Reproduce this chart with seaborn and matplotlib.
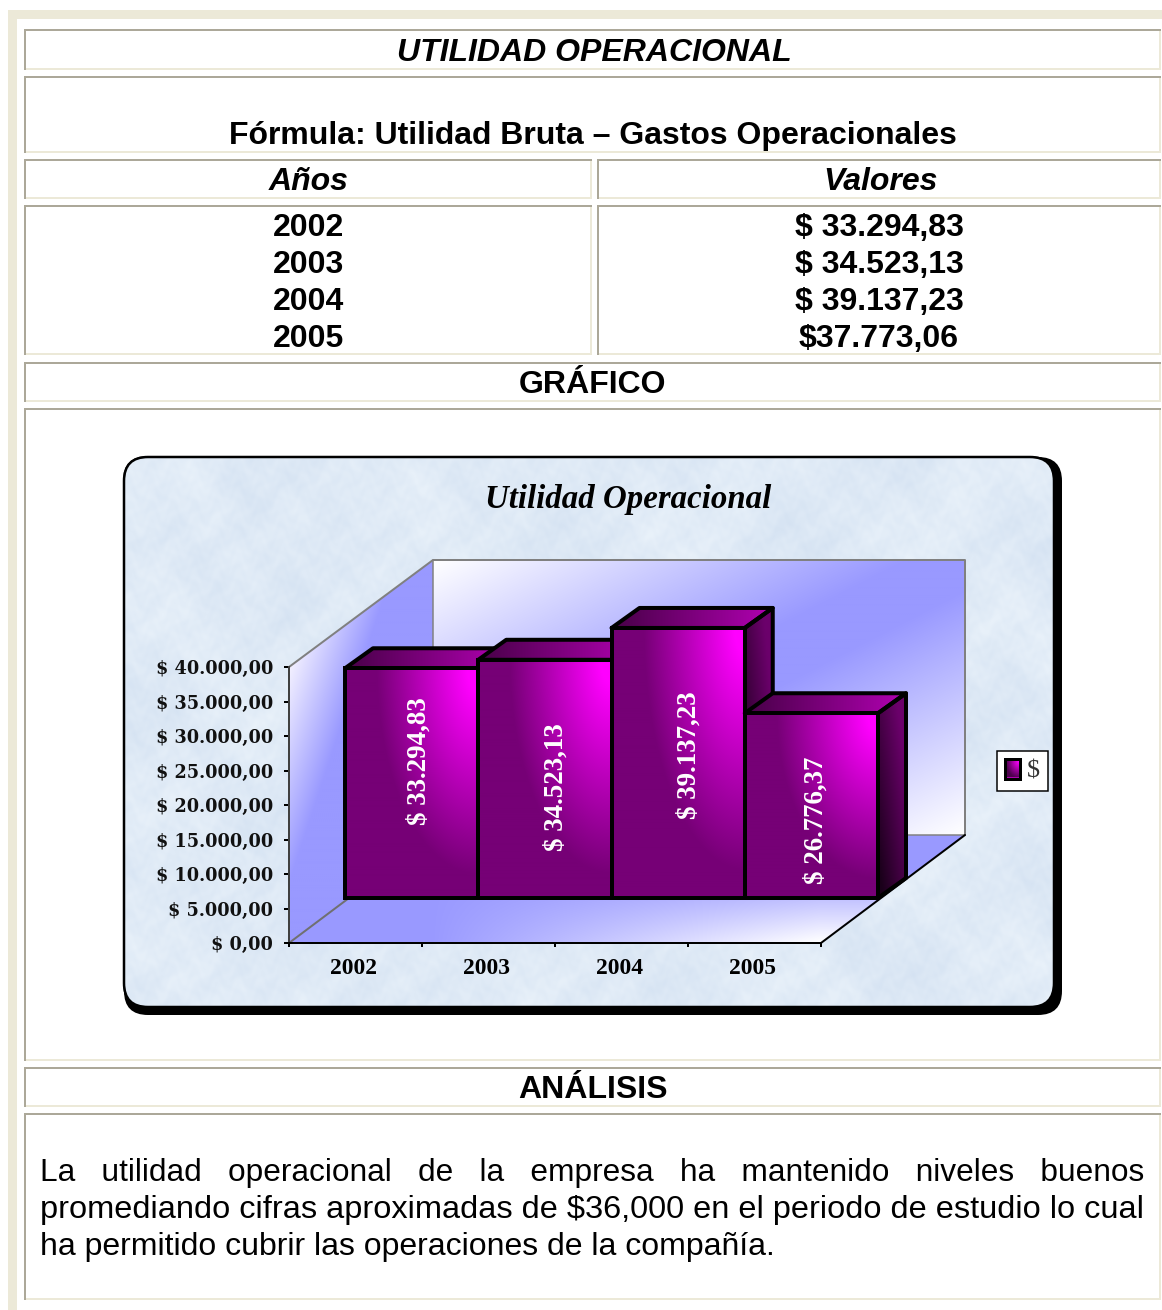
import numpy as np
import matplotlib
matplotlib.use("Agg")
import matplotlib.pyplot as plt
import seaborn as sns
from matplotlib.patches import Rectangle, Polygon, FancyBboxPatch, Patch
from matplotlib.ticker import FixedLocator, FixedFormatter, NullFormatter

# ---------- data ----------
YEARS = ["2002", "2003", "2004", "2005"]
CHART_VALUES = [33294.83, 34523.13, 39137.23, 26776.37]
TABLE_VALUES = ["$ 33.294,83", "$ 34.523,13", "$ 39.137,23", "$37.773,06"]
VALUE_TICKS = [0, 5000, 10000, 15000, 20000, 25000, 30000, 35000, 40000]
PAGE_TITLE = "UTILIDAD OPERACIONAL"
FORMULA = "Fórmula: Utilidad Bruta – Gastos Operacionales"
CHART_TITLE = "Utilidad Operacional"
BODY = [
    "La   utilidad   operacional   de   la   empresa   ha   mantenido   niveles   buenos",
    "promediando cifras aproximadas de $36,000 en el periodo de estudio lo cual",
    "ha permitido cubrir las operaciones de la compañía.",
]

# ---------- layout (pixels) ----------
W, H = 1162, 1310
PX = 0.72  # points per pixel at dpi 100
SANS = "Liberation Sans"
SERIF = "Liberation Serif"
CREAM = "#ece9d8"
GREY = "#aca899"
PERI = np.array([0x99, 0x99, 0xff]) / 255
WHITE = np.ones(3)
EDGE = 4 * PX

sns.set_theme(style="white")
plt.rcParams["font.family"] = [SANS, "DejaVu Sans"]

fig = plt.figure(figsize=(W / 100, H / 100), dpi=100, facecolor="white")


def rect_for(x0, x1, ytop, ybot):
    return [x0 / W, 1 - ybot / H, (x1 - x0) / W, (ybot - ytop) / H]


page = fig.add_axes([0, 0, 1, 1], zorder=0)
page.set_xlim(0, W)
page.set_ylim(H, 0)
page.axis("off")

# page frame
page.add_patch(Rectangle((8, 10), W - 8, 9, fc=CREAM, ec="none"))
page.add_patch(Rectangle((8, 10), 9, H - 10, fc=CREAM, ec="none"))


def cell(x0, x1, y0, y1):
    page.add_patch(Rectangle((x0, y1 - 2), x1 - x0, 2, fc=CREAM, ec="none"))
    page.add_patch(Rectangle((x1 - 2, y0), 2, y1 - y0, fc=CREAM, ec="none"))
    page.add_patch(Rectangle((x0, y0), x1 - x0, 2, fc=GREY, ec="none"))
    page.add_patch(Rectangle((x0, y0), 2, y1 - y0, fc=GREY, ec="none"))


RIGHT = 1161
for y0, y1 in [(29, 70), (76, 153), (362, 402), (408, 1061), (1067, 1107), (1113, 1300)]:
    cell(24, RIGHT, y0, y1)
for y0, y1 in [(159, 199), (205, 355)]:
    cell(24, 592, y0, y1)
    cell(597, RIGHT, y0, y1)


def txt(x, y, s, size, weight="bold", style="normal", ha="center", family=SANS, color="black"):
    return page.text(x, y, s, fontsize=size * PX, fontweight=weight, fontstyle=style, ha=ha,
                     va="baseline", family=family, color=color, zorder=6)


txt(594, 61, PAGE_TITLE, 32, style="italic")
txt(592.5, 144, FORMULA, 32)
txt(308.5, 190, "Años", 32, style="italic")
txt(881, 190, "Valores", 32, style="italic")
for y_b, yr, val in zip([236, 273, 310, 347], YEARS, TABLE_VALUES):
    txt(308, y_b, yr, 32)
    txt(879, y_b, val, 32)
txt(592.5, 393, "GRÁFICO", 32)
txt(592.5, 1098, "ANÁLISIS", 32)
for y_b, line, size in zip([1181, 1218, 1255], BODY, [31.6, 32.45, 32]):
    txt(40, y_b, line, size, weight="normal", ha="left")

# chart panel
page.add_patch(FancyBboxPatch((124 + 24, 457 + 24), 938 - 48, 558 - 48,
                              boxstyle="round,pad=24,rounding_size=24", fc="black", ec="none", zorder=2))
panel = FancyBboxPatch((124 + 24, 457 + 24), 930 - 48, 550 - 48,
                       boxstyle="round,pad=24,rounding_size=24", fc="#dfeaf6", ec="black", lw=2 * PX, zorder=3)
page.add_patch(panel)
yy, xx = np.mgrid[0:550, 0:930]
tex = (np.sin(xx * 0.023 + 1.7 * np.sin(yy * 0.019))
       + np.sin(yy * 0.037 + 2.1 * np.sin(xx * 0.029 + 1.0))
       + 0.8 * np.sin(xx * 0.083 + 1.9 * np.sin(yy * 0.071 + 0.5) + yy * 0.03)
       + 0.7 * np.sin(yy * 0.131 + 2.3 * np.sin(xx * 0.113 + 2.0))
       + 0.5 * np.sin(xx * 0.27 + 2.7 * np.sin(yy * 0.23)) + 0.5 * np.sin(yy * 0.31 + 2.9 * np.sin(xx * 0.29))) / 4.5
base = np.array([0xdf, 0xea, 0xf6]) / 255
tint = np.array([0.04, 0.03, 0.015])
tex_rgb = np.clip(base[None, None, :] + tex[..., None] * tint, 0, 1)
im = page.imshow(tex_rgb, extent=(124, 1054, 1007, 457), aspect="auto", zorder=3.1, interpolation="bilinear")
im.set_clip_path(panel)
page.add_patch(FancyBboxPatch((124 + 24, 457 + 24), 930 - 48, 550 - 48,
                              boxstyle="round,pad=24,rounding_size=24", fc="none", ec="black",
                              lw=2.5 * PX, zorder=3.2))


def mix(t, a, b):
    t = np.clip(t, 0, 1)[..., None]
    return a * (1 - t) + b * t


def wall(points, extent, rgb):
    poly = Polygon(points, closed=True, fc="none", ec="none", zorder=3.3)
    page.add_patch(poly)
    img = page.imshow(rgb, extent=extent, aspect="auto", zorder=3.3, interpolation="bilinear")
    img.set_clip_path(poly)


# back wall: white corners, periwinkle diagonal band
u, v = np.meshgrid(np.linspace(0, 1, 266), np.linspace(0, 1, 138))
s = (u + v) / 2
wall([(433, 560), (965, 560), (965, 835), (433, 835)], (433, 965, 835, 560),
     mix(1.12 * (1 - np.abs(2 * s - 1)), WHITE, PERI))
# left wall
gx, gy = np.meshgrid(np.linspace(289, 433, 72), np.linspace(560, 943, 192))
wall([(289, 667), (433, 560), (433, 835), (289, 943)], (289, 433, 943, 560),
     mix(((gx - 289) / 72 + (gy - 667) / 215), np.array([0.95, 0.94, 1.0]), PERI))
# floor
gx, gy = np.meshgrid(np.linspace(289, 965, 338), np.linspace(835, 943, 54))
wall([(289, 943), (821, 943), (965, 835), (433, 835)], (289, 965, 943, 835),
     mix(np.clip((gx - 430) / 390, 0, 1) * np.clip((gy - 870) / 73, 0, 1), PERI, WHITE))
# wall outlines
page.plot([289, 433, 965, 965], [667, 560, 560, 835], color="#808080", lw=2 * PX, zorder=3.4)
page.plot([433, 433], [560, 835], color="#808080", lw=1.5 * PX, zorder=3.4)
page.plot([433, 965], [835, 835], color="#808080", lw=1.5 * PX, zorder=3.4)
page.plot([289, 433], [943, 835], color="#707070", lw=2 * PX, zorder=3.4)
page.plot([821, 965], [943, 835], color="black", lw=2 * PX, zorder=3.4)

txt(628, 508, CHART_TITLE, 32.9, style="italic", family=SERIF)
page.set_xlim(0, W)
page.set_ylim(H, 0)


def money(v):
    return "$ " + f"{v:,.2f}".replace(",", "X").replace(".", ",").replace("X", ".")


# value axis on the front plane
ax_val = fig.add_axes(rect_for(289, 821, 667, 943), zorder=1)
ax_val.patch.set_alpha(0)
ax_val.set_xlim(-0.5, 3.5)
ax_val.set_ylim(0, 40000)
for side in ("top", "right"):
    ax_val.spines[side].set_visible(False)
ax_val.spines["left"].set_color("#404040")
ax_val.spines["bottom"].set_color("black")
ax_val.spines["left"].set_linewidth(2 * PX)
ax_val.spines["bottom"].set_linewidth(2 * PX)
ax_val.yaxis.set_major_locator(FixedLocator(VALUE_TICKS))
ax_val.yaxis.set_major_formatter(FixedFormatter([money(v) for v in VALUE_TICKS]))
ax_val.tick_params(axis="y", length=5 * PX, width=2 * PX, color="black", pad=11 * PX, left=True)
ax_val.xaxis.set_major_locator(FixedLocator([-0.5, 0.5, 1.5, 2.5, 3.5]))
ax_val.xaxis.set_major_formatter(NullFormatter())
ax_val.xaxis.set_minor_locator(FixedLocator([p - 0.015 for p in range(len(YEARS))]))
ax_val.xaxis.set_minor_formatter(FixedFormatter(YEARS))
ax_val.tick_params(axis="x", which="major", length=4 * PX, width=2 * PX, color="black", bottom=True)
ax_val.tick_params(axis="x", which="minor", length=0, pad=15 * PX)
for lab in ax_val.get_yticklabels():
    lab.set(family="DejaVu Serif", fontweight="bold", fontsize=17.6 * PX, color="#111111")
for lab in ax_val.get_xticklabels(minor=True):
    lab.set(family=SERIF, fontweight="bold", fontsize=23.5 * PX, color="black")

# bars on the floor, shifted back into the depth of the chart; the axes leaves room for the depth faces
STEP = 533 / 4
ax_bar = fig.add_axes(rect_for(345, 878 + STEP, 898 - 345, 898), zorder=2)
ax_bar.patch.set_alpha(0)
sns.barplot(x=YEARS, y=CHART_VALUES, color="#a000a0", saturation=1, width=1, errorbar=None,
            edgecolor="black", linewidth=EDGE, ax=ax_bar)
ax_bar.axis("off")

DX = 28 / STEP
DY = 20 / 276 * 40000
DEEP = np.array([0x76, 0x00, 0x76]) / 255
MAGENTA = np.array([1.0, 0.0, 1.0])
LABEL_PX = [(419, 761), (556, 787), (689, 755), (816, 820)]

for i, bar in enumerate(ax_bar.patches):
    x0, w, h = bar.get_x(), bar.get_width(), bar.get_height()
    x1 = x0 + w
    z = 3 + i * 3
    # side face
    side = Polygon([(x1, 0), (x1 + DX, DY), (x1 + DX, h + DY), (x1, h)], closed=True, fc="none",
                   ec="black", lw=EDGE, zorder=z + 0.2, clip_on=False, joinstyle="round")
    ax_bar.add_patch(side)
    gu, gv = np.meshgrid(np.linspace(0, 1, 16), np.linspace(0, 1, 120))
    shade = mix(0.62 * gu + 0.7 * (1 - gv) - 0.1, np.array([0.10, 0.0, 0.10]), np.array([0.42, 0.0, 0.42]))
    img = ax_bar.imshow(shade, extent=(x1, x1 + DX, 0, h + DY), aspect="auto", zorder=z + 0.1,
                        interpolation="bilinear")
    img.set_clip_path(side)
    # top face
    top = Polygon([(x0, h), (x0 + DX, h + DY), (x1 + DX, h + DY), (x1, h)], closed=True, fc="none",
                  ec="black", lw=EDGE, zorder=z + 0.2, clip_on=False, joinstyle="round")
    ax_bar.add_patch(top)
    gu, gv = np.meshgrid(np.linspace(0, 1, 120), np.linspace(0, 1, 8))
    shade = mix(gu, np.array([0.28, 0.0, 0.28]), np.array([0.70, 0.0, 0.70]))
    img = ax_bar.imshow(shade, extent=(x0, x1 + DX, h, h + DY), aspect="auto", zorder=z + 0.1,
                        interpolation="bilinear")
    img.set_clip_path(top)
    # front face: gradient from the upper right corner
    gu, gv = np.meshgrid(np.linspace(0, 1, 134), np.linspace(0, 1, 240))
    dist = np.sqrt(((1 - gu) / 0.85) ** 2 + gv ** 2)
    front = mix((dist - 0.1) / 0.8, MAGENTA, DEEP)
    img = ax_bar.imshow(front, extent=(x0, x1, 0, h), aspect="auto", zorder=z + 0.3,
                        interpolation="bilinear")
    img.set_clip_path(bar)
    bar.set_facecolor("none")
    bar.set_zorder(z + 0.4)
    bar.set_clip_on(False)

ax_bar.set_xlim(-0.5, 4.5)
ax_bar.set_ylim(0, 50000)

# value labels sit on top of all bars, placed in page pixels
ax_lab = fig.add_axes([0, 0, 1, 1], zorder=3)
ax_lab.set_xlim(0, W)
ax_lab.set_ylim(H, 0)
ax_lab.axis("off")
for v, (lx, ly) in zip(CHART_VALUES, LABEL_PX):
    ax_lab.text(lx, ly, money(v), rotation=90, ha="center", va="center", color="white", family=SERIF,
                fontweight="bold", fontsize=27 * PX)

leg = ax_lab.legend(handles=[Patch(facecolor="#b000b0", edgecolor="black", linewidth=3 * PX)], labels=["$"],
                    loc="center", bbox_to_anchor=(1022.5, 771), bbox_transform=ax_lab.transData,
                    frameon=True, fancybox=False, framealpha=1, facecolor="white", edgecolor="black",
                    prop={"family": SERIF, "size": 26 * PX}, handlelength=0.58, handleheight=0.8,
                    handletextpad=0.28, borderpad=0.3, labelcolor="#333333")
leg.get_frame().set_linewidth(1.5 * PX)

# gradient inside the legend key
fig.canvas.draw()
bb = leg.legend_handles[0].get_window_extent()
ku, kv = np.meshgrid(np.linspace(0, 1, 20), np.linspace(0, 1, 20))
kd = np.sqrt((1 - ku) ** 2 + kv ** 2)
ax_lab.imshow(mix(kd / 1.1, MAGENTA, np.array([0.30, 0.0, 0.30])),
              extent=(bb.x0 + 2, bb.x1 - 2, H - bb.y0 - 2, H - bb.y1 + 2), aspect="auto", zorder=7,
              interpolation="bilinear")
ax_lab.set_xlim(0, W)
ax_lab.set_ylim(H, 0)

fig.savefig("out.png", dpi=100, facecolor="white")
